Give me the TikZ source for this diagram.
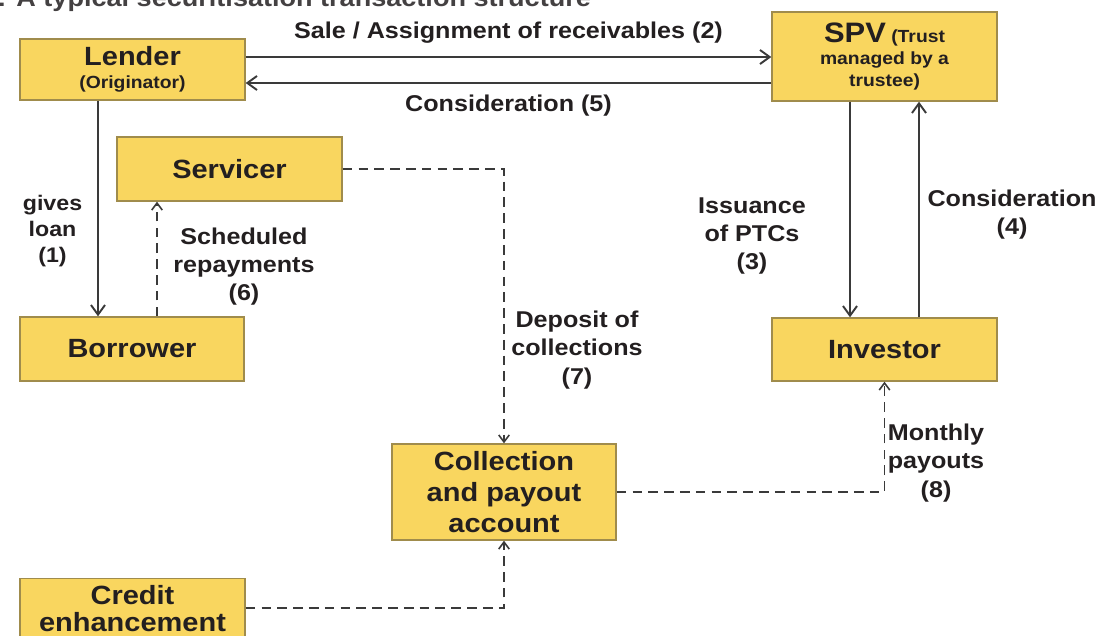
\documentclass[tikz,border=0pt]{standalone}
\usepackage{fontspec}
\setmainfont{Liberation Sans}[FakeStretch=1.1]
\usepackage{tikz}
\usetikzlibrary{arrows.meta,positioning}
\usepackage{xcolor}
\definecolor{BoxFill}{HTML}{F9D65F}
\definecolor{BoxLine}{HTML}{A08C4C}
\definecolor{InkDark}{HTML}{231F20}
\definecolor{LineDark}{HTML}{3A3A3A}

\begin{document}
\begin{tikzpicture}[
  font=\bfseries,
  entity/.style={draw=BoxLine, fill=BoxFill, line width=0.8pt, align=center, minimum width=4.5cm, inner sep=0pt, text=InkDark, font=\fontsize{15}{17.5}\selectfont\bfseries},
  lbl/.style={align=center, inner sep=0pt, text=InkDark, font=\fontsize{13}{16}\selectfont\bfseries},
  flow/.style={LineDark, line width=1.1pt, -{Straight Barb[length=5.5pt,width=8pt]}},
  cash/.style={LineDark, line width=0.9pt, dash pattern=on 5.5pt off 3.5pt, -{Straight Barb[length=4pt,width=6pt]}}
]
\useasboundingbox (0,0) rectangle (21.98,-12.7);
\clip (0,0) rectangle (21.98,-12.7);

% Title (cut at the top)
\node[anchor=base west, inner sep=0pt, text=InkDark!85, font=\fontsize{14}{16}\selectfont\bfseries] (title) at (-0.36,-0.13) {1: A typical securitisation transaction structure};

% Parties
\node[entity, minimum height=1.22cm, font=\fontsize{15}{13}\selectfont\bfseries] (lender) at (2.65,-1.39) {Lender\\{\fontsize{10}{13}\selectfont (Originator)}};
\node[entity, minimum height=1.78cm, font=\fontsize{10}{12.5}\selectfont\bfseries] (spv) at (17.69,-1.13) {{\fontsize{16}{12.5}\selectfont SPV} (Trust\\managed by a\\trustee)};
\node[entity, minimum height=1.28cm] (servicer) at (4.59,-3.38) {Servicer};
\node[entity, minimum width=4.48cm, minimum height=1.28cm] (borrower) at (2.64,-6.98) {Borrower};
\node[entity, minimum height=1.26cm] (investor) at (17.69,-6.99) {Investor};
\node[entity, minimum width=4.48cm, minimum height=1.92cm] (collection) at (10.08,-9.84) {Collection\\and payout\\account};
\node[entity, anchor=north, inner ysep=4pt, font=\fontsize{15}{15.3}\selectfont\bfseries] (credit) at (2.65,-11.56) {Credit\\enhancement\\\strut};

% Lender <-> SPV
\draw[flow] ([yshift=.25cm]lender.east) -- node[lbl, above=.26cm] (lblsale) {Sale / Assignment of receivables (2)} ([yshift=.25cm]lender.east -| spv.west);
\draw[flow] ([yshift=-.27cm]lender.east -| spv.west) -- node[lbl, below=.22cm] (lblcons5) {Consideration (5)} ([yshift=-.27cm]lender.east);

% Lender -> Borrower -> Servicer
\draw[flow] ([xshift=-.69cm]lender.south) -- ([xshift=-.69cm]lender.south |- borrower.north);
\node[lbl, font=\fontsize{12}{15}\selectfont\bfseries] (lblloan) at (1.05,-4.62) {gives\\loan\\(1)};
\draw[cash] ([xshift=.5cm]borrower.north) -- ([xshift=.5cm]borrower.north |- servicer.south);
\node[lbl] (lblrepay) at (4.88,-5.33) {Scheduled\\repayments\\(6)};

% Collections into the account
\draw[cash] (servicer.east) -| (collection.north);
\node[lbl] (lbldeposit) at (11.54,-7.0) {Deposit of\\collections\\(7)};
\draw[cash] ([yshift=-.6cm]credit.north east) -| (collection.south);

% SPV <-> Investor
\draw[flow] ([xshift=-.69cm]spv.south) -- ([xshift=-.69cm]spv.south |- investor.north);
\node[lbl] (lblptc) at (15.04,-4.72) {Issuance\\of PTCs\\(3)};
\draw[flow] ([xshift=.69cm]investor.north) -- ([xshift=.69cm]investor.north |- spv.south);
\node[lbl] (lblcons4) at (20.24,-4.3) {Consideration\\(4)};

% Payouts to investor
\draw[cash] (collection.east) -| (investor.south);
\node[lbl] (lblpayout) at (18.72,-9.26) {Monthly\\payouts\\(8)};

\end{tikzpicture}
\end{document}
